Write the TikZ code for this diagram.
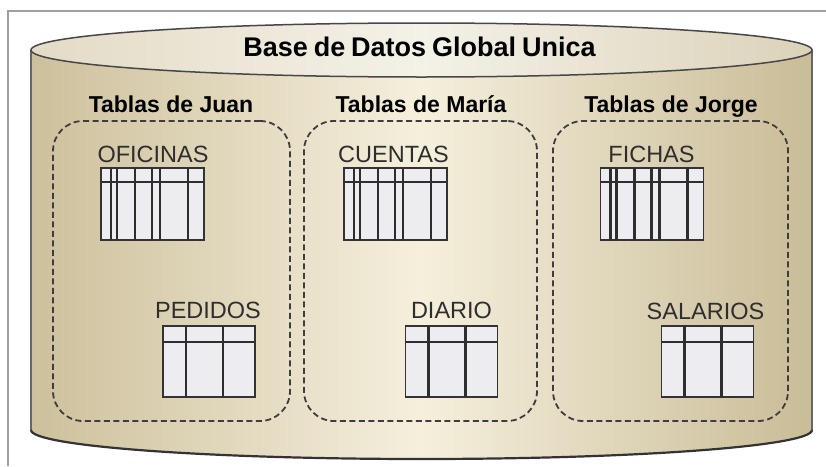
\documentclass[tikz,border=0pt]{standalone}
\usepackage{fontspec}
\setmainfont{Liberation Sans}
\usetikzlibrary{calc}
\definecolor{frameclr}{HTML}{A0A0A0}
\definecolor{bodyL}{HTML}{CDC09C}
\definecolor{bodyM}{HTML}{F5EFDC}
\definecolor{bodyR}{HTML}{C9BC97}
\definecolor{topL}{HTML}{E3DBC6}
\definecolor{topM}{HTML}{F4F1E7}
\definecolor{topR}{HTML}{DBD2B9}
\definecolor{lineclr}{HTML}{333333}
\definecolor{tablefill}{HTML}{EDEDF1}
\tikzset{
 tablebox/.style={draw=lineclr, line width=1.8pt, fill=tablefill, inner sep=0pt, outer sep=0pt},
 tableline/.style={draw=lineclr!90!black, line width=2.2pt},
 groupbox/.style={draw=lineclr!95, dash pattern=on 6pt off 3.5pt, line width=1.8pt, rounded corners=30pt, inner sep=0pt},
 grouptitle/.style={font=\fontsize{23}{26}\selectfont\bfseries, anchor=base, inner sep=0pt, text=black},
 tablelabel/.style={font=\fontsize{23.5}{26}\selectfont, anchor=base, inner sep=0pt, text=black!82},
 dbtitle/.style={font=\fontsize{27}{30}\selectfont\bfseries, anchor=base, inner sep=0pt, text=black},
}
\newcommand\mkwidetable[3]{%
 \node[tablebox, minimum width=103pt, minimum height=72pt] (#1) at (#2,#3) {};
 \draw[tableline] ($(#1.north west)+(0,14)$) -- ($(#1.north east)+(0,14)$);
 \foreach \dx in {10,16,34,51,59,87}
   \draw[tableline] ($(#1.north west)+(\dx,0)$) -- ($(#1.south west)+(\dx,0)$);
}
\newcommand\mknarrowtable[3]{%
 \node[tablebox, minimum width=92pt, minimum height=71pt] (#1) at (#2,#3) {};
 \draw[tableline] ($(#1.north west)+(0,16)$) -- ($(#1.north east)+(0,16)$);
 \foreach \dx in {23,60}
   \draw[tableline] ($(#1.north west)+(\dx,0)$) -- ($(#1.south west)+(\dx,0)$);
}
\begin{document}
\begin{tikzpicture}[x=1pt,y=-1pt]
\useasboundingbox (0,0) rectangle (826,466);
\fill[white] (0,0) rectangle (826,466);
% frame
\draw[frameclr, line width=1.5pt] (8,466) -- (8,11) -- (826,11);
% cylinder body
\fill[left color=bodyL, right color=bodyR, middle color=bodyM]
  (31,50) -- (31,430) .. controls (31,446) and (205.8,459) .. (421.5,459)
  .. controls (637.2,459) and (812,446) .. (812,430) -- (812,50) -- cycle;
\draw[lineclr!75, line width=1.2pt] (31,50) -- (31,430);
\draw[lineclr!75, line width=1.2pt] (812,50) -- (812,430);
\draw[lineclr, line width=2.2pt] (31,430) .. controls (31,446) and (205.8,459) .. (421.5,459)
  .. controls (637.2,459) and (812,446) .. (812,430);
\draw[draw=lineclr!90, line width=1.5pt, left color=topL, right color=topR, middle color=topM]
  (421.5,50) ellipse [x radius=390.5pt, y radius=27pt];
\node[dbtitle] (dbt) at (419.5,56) {\spaceskip=0.22em\relax Base de Datos Global Unica};
% groups
\node[groupbox, minimum width=237pt, minimum height=300pt] (gjuan) at (171.5,271) {};
\node[groupbox, minimum width=233pt, minimum height=300pt] (gmaria) at (420.5,271) {};
\node[groupbox, minimum width=235pt, minimum height=300pt] (gjorge) at (670.5,271) {};
\node[grouptitle] (tjuan) at (171,112) {Tablas de Juan};
\node[grouptitle] (tmaria) at (421,112) {Tablas de María};
\node[grouptitle] (tjorge) at (671,112) {Tablas de Jorge};
% tables
\mkwidetable{ofi}{152.5}{204}
\mkwidetable{cue}{395.5}{204}
\mkwidetable{fic}{652}{204}
\mknarrowtable{ped}{209}{361.5}
\mknarrowtable{dia}{451.5}{361.5}
\mknarrowtable{sal}{707.5}{361.5}
\node[tablelabel] (lofi) at (153,162) {OFICINAS};
\node[tablelabel] (lcue) at (393.5,162) {CUENTAS};
\node[tablelabel] (lfic) at (651.5,162) {FICHAS};
\node[tablelabel] (lped) at (208,318) {PEDIDOS};
\node[tablelabel] (ldia) at (451.5,318) {DIARIO};
\node[tablelabel] (lsal) at (705.5,319) {SALARIOS};
\end{tikzpicture}
\end{document}
